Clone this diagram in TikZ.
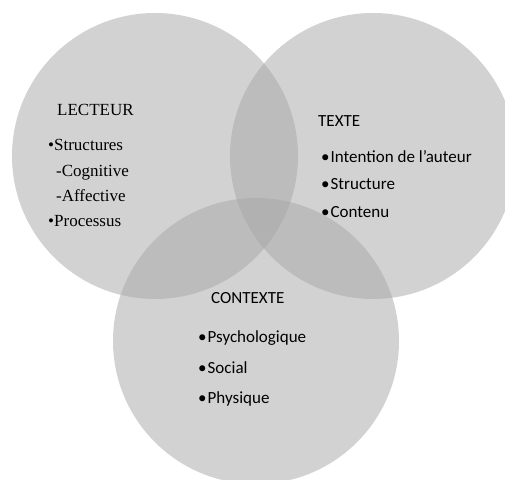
\documentclass[tikz,border=0pt]{standalone}
\usepackage{fontspec}
\setmainfont{Liberation Serif}
\newfontfamily\calibri{Carlito}
\usepackage{tikz}

\begin{document}
\begin{tikzpicture}[
			x=1pt, y=1pt,
			disc/.style={fill=black!35, fill opacity=0.5},
			serif/.style={anchor=base west, inner sep=0pt, font=\fontsize{17}{20}\selectfont},
			sans/.style={anchor=base west, inner sep=0pt, font=\calibri\fontsize{17}{20}\selectfont}
			]
			\clip (0,0) rectangle (505,479);
			% les trois cercles
			\fill[disc] (155,323) circle (143);
			\fill[disc] (373,323) circle (143);
			\fill[disc] (256,138) circle (143);
			
			% lecteur
			\node[serif] (lect) at (57,363) {LECTEUR};
			\node[serif] (lect1) at (48,328) {\textbullet Structures};
			\node[serif] (lect2) at (56,302) {-Cognitive};
			\node[serif] (lect3) at (56,277) {-Affective};
			\node[serif] (lect4) at (48,252) {\textbullet Processus};
			
			% texte
			\node[sans] (txt) at (318,352) {TEXTE};
			\node[sans] (txt1) at (321,316) {•\hspace{1pt}Intention de l’auteur};
			\node[sans] (txt2) at (321,289) {•\hspace{1pt}Structure};
			\node[sans] (txt3) at (321,261) {•\hspace{1pt}Contenu};
			
			% contexte
			\node[sans] (ctx) at (211,175) {CONTEXTE};
			\node[sans] (ctx1) at (198,136) {•\hspace{1pt}Psychologique};
			\node[sans] (ctx2) at (198,106) {•\hspace{1pt}Social};
			\node[sans] (ctx3) at (198,76) {•\hspace{1pt}Physique};
		\end{tikzpicture}
\end{document}
